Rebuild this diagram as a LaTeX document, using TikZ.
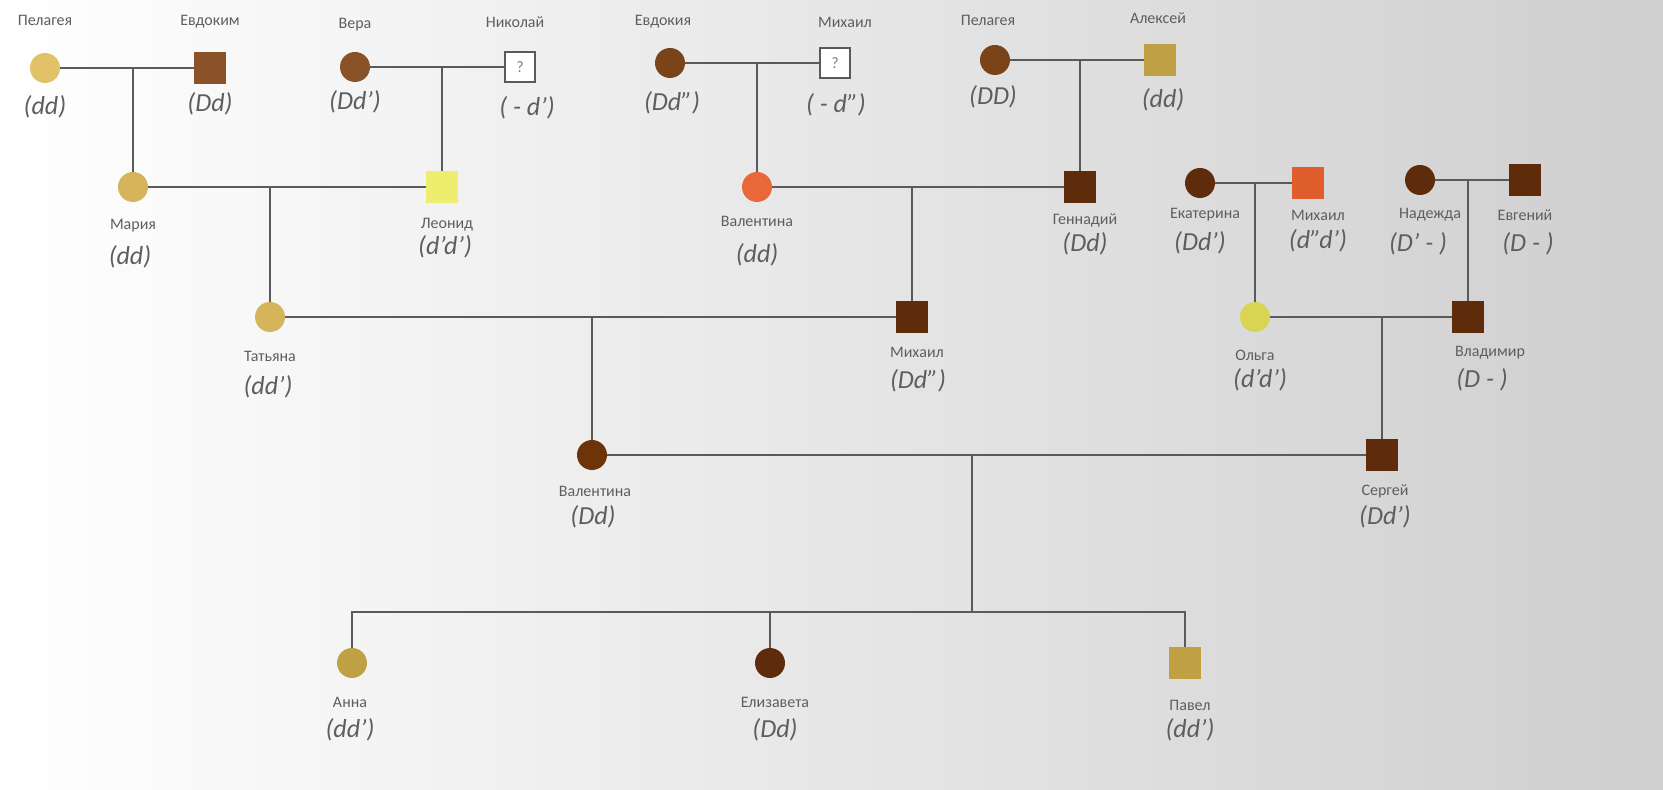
\documentclass[tikz,border=0pt]{standalone}
\usepackage{fontspec}
\setmainfont{Carlito}

\definecolor{linegray}{HTML}{5A5A5A}
\definecolor{txtgray}{HTML}{5E5E5E}
\definecolor{sand}{HTML}{E2C266}
\definecolor{tan}{HTML}{D6B45C}
\definecolor{ochre}{HTML}{BFA044}
\definecolor{lemon}{HTML}{EEEE6E}
\definecolor{olive}{HTML}{D9D552}
\definecolor{brownA}{HTML}{8A5228}
\definecolor{brownB}{HTML}{7A4318}
\definecolor{brownC}{HTML}{5E2C0A}
\definecolor{orangeA}{HTML}{E8683A}
\definecolor{orangeB}{HTML}{E05E2C}

\begin{document}
\begin{tikzpicture}[x=0.5pt,y=-0.5pt,
        fem/.style={circle,minimum size=15pt,inner sep=0pt},
        mal/.style={rectangle,minimum size=16pt,inner sep=0pt},
        unk/.style={rectangle,draw=linegray,line width=0.6pt,fill=white,minimum size=15pt,inner sep=0pt,text=gray,font=\fontsize{8}{9}\selectfont},
        nm/.style={text=txtgray,font=\fontsize{8}{9}\selectfont},
        gt/.style={text=txtgray,font=\fontsize{13}{15}\selectfont\itshape},
        ln/.style={draw=linegray,line width=1.1pt}]
        \fill[left color=white,right color=gray!38] (0,0) rectangle (1663,790);
        \useasboundingbox (0,0) rectangle (1663,790);
        % \draw[help lines,step=50] (0,0) grid (1663,790);

        % first generation
        \node[fem,fill=sand] at (45,68) (pel1) {};
        \node[mal,fill=brownA] at (210,68) (evd) {};
        \node[fem,fill=brownA] at (355,67) (vera) {};
        \node[unk] at (520,67) (nik) {?};
        \node[fem,fill=brownB] at (670,63) (evdk) {};
        \node[unk] at (835,63) (mih1) {?};
        \node[fem,fill=brownB] at (995,60) (pel2) {};
        \node[mal,fill=ochre] at (1160,60) (alex) {};

        \node[nm] at (45,20) {Пелагея};
        \node[nm] at (210,22) {Евдоким};
        \node[nm] at (355,25) {Вера};
        \node[nm] at (515,22) {Николай};
        \node[nm] at (663,22) {Евдокия};
        \node[nm] at (845,22) {Михаил};
        \node[nm] at (988,20) {Пелагея};
        \node[nm] at (1158,18) {Алексей};

        \node[gt] at (45,107) {(dd)};
        \node[gt] at (210,104) {(Dd)};
        \node[gt] at (355,102) {(Dd')};
        \node[gt] at (527,108) {( - d')};
        \node[gt] at (672,103) {(Dd'')};
        \node[gt] at (836,105) {( - d'')};
        \node[gt] at (993,97) {(DD)};
        \node[gt] at (1163,100) {(dd)};

        % second generation
        \node[fem,fill=tan] at (133,187) (mar) {};
        \node[mal,fill=lemon] at (442,187) (leo) {};
        \node[fem,fill=orangeA] at (757,187) (val1) {};
        \node[mal,fill=brownC] at (1080,187) (gen) {};
        \node[fem,fill=brownC] at (1200,183) (ekat) {};
        \node[mal,fill=orangeB] at (1308,183) (mih2) {};
        \node[fem,fill=brownC] at (1420,180) (nad) {};
        \node[mal,fill=brownC] at (1525,180) (evg) {};

        \node[nm] at (133,226) {Мария};
        \node[nm] at (447,225) {Леонид};
        \node[nm] at (757,221) {Валентина};
        \node[nm] at (1085,220) {Геннадий};
        \node[nm] at (1205,215) {Екатерина};
        \node[nm] at (1318,215) {Михаил};
        \node[nm] at (1430,215) {Надежда};
        \node[nm] at (1525,215) {Евгений};

        \node[gt] at (130,257) {(dd)};
        \node[gt] at (445,247) {(d'd')};
        \node[gt] at (757,255) {(dd)};
        \node[gt] at (1085,244) {(Dd)};
        \node[gt] at (1200,243) {(Dd')};
        \node[gt] at (1318,241) {(d''d')};
        \node[gt] at (1418,244) {(D' - )};
        \node[gt] at (1528,244) {(D - )};

        % third generation
        \node[fem,fill=tan] at (270,317) (tat) {};
        \node[mal,fill=brownC] at (912,317) (mih3) {};
        \node[fem,fill=olive] at (1255,317) (olg) {};
        \node[mal,fill=brownC] at (1468,317) (vlad) {};

        \node[nm] at (270,356) {Татьяна};
        \node[nm] at (917,352) {Михаил};
        \node[nm] at (1255,355) {Ольга};
        \node[nm] at (1490,353) {Владимир};

        \node[gt] at (268,387) {(dd')};
        \node[gt] at (918,381) {(Dd'')};
        \node[gt] at (1260,380) {(d'd')};
        \node[gt] at (1482,380) {(D - )};

        % fourth generation
        \node[fem,fill=brownC!90!orange] at (592,455) (val2) {};
        \node[mal,fill=brownC] at (1382,455) (serg) {};

        \node[nm] at (595,491) {Валентина};
        \node[nm] at (1385,491) {Сергей};
        \node[gt] at (593,517) {(Dd)};
        \node[gt] at (1385,517) {(Dd')};

        % children
        \node[fem,fill=ochre] at (352,663) (anna) {};
        \node[fem,fill=brownC] at (770,663) (liza) {};
        \node[mal,fill=ochre] at (1185,663) (pav) {};

        \node[nm] at (350,702) {Анна};
        \node[nm] at (775,702) {Елизавета};
        \node[nm] at (1190,705) {Павел};
        \node[gt] at (350,730) {(dd')};
        \node[gt] at (775,730) {(Dd)};
        \node[gt] at (1190,730) {(dd')};

        % couples
        \path[ln]
        (pel1) edge (evd)
        (vera) edge (nik)
        (evdk) edge (mih1)
        (pel2) edge (alex)
        (mar) edge (leo)
        (val1) edge (gen)
        (ekat) edge (mih2)
        (nad) edge (evg)
        (tat) edge (mih3)
        (olg) edge (vlad)
        (val2) edge (serg);

        % descent
        \coordinate (j1) at (mar |- pel1);
        \coordinate (j2) at (leo |- vera);
        \coordinate (j3) at (val1 |- evdk);
        \coordinate (j4) at (gen |- pel2);
        \coordinate (j5) at (tat |- mar);
        \coordinate (j6) at (mih3 |- val1);
        \coordinate (j7) at (olg |- ekat);
        \coordinate (j8) at (vlad |- nad);
        \coordinate (j9) at (val2 |- tat);
        \coordinate (j10) at (serg |- olg);
        \coordinate (j11) at (972,455);
        \coordinate (sib) at (972,612);

        \path[ln]
        (j1) edge (mar)
        (j2) edge (leo)
        (j3) edge (val1)
        (j4) edge (gen)
        (j5) edge (tat)
        (j6) edge (mih3)
        (j7) edge (olg)
        (j8) edge (vlad)
        (j9) edge (val2)
        (j10) edge (serg)
        (j11) edge (sib);
        \draw[ln] (anna) |- (sib) -| (pav);
        \draw[ln] (liza) -- (liza |- sib);
\end{tikzpicture}
\end{document}
